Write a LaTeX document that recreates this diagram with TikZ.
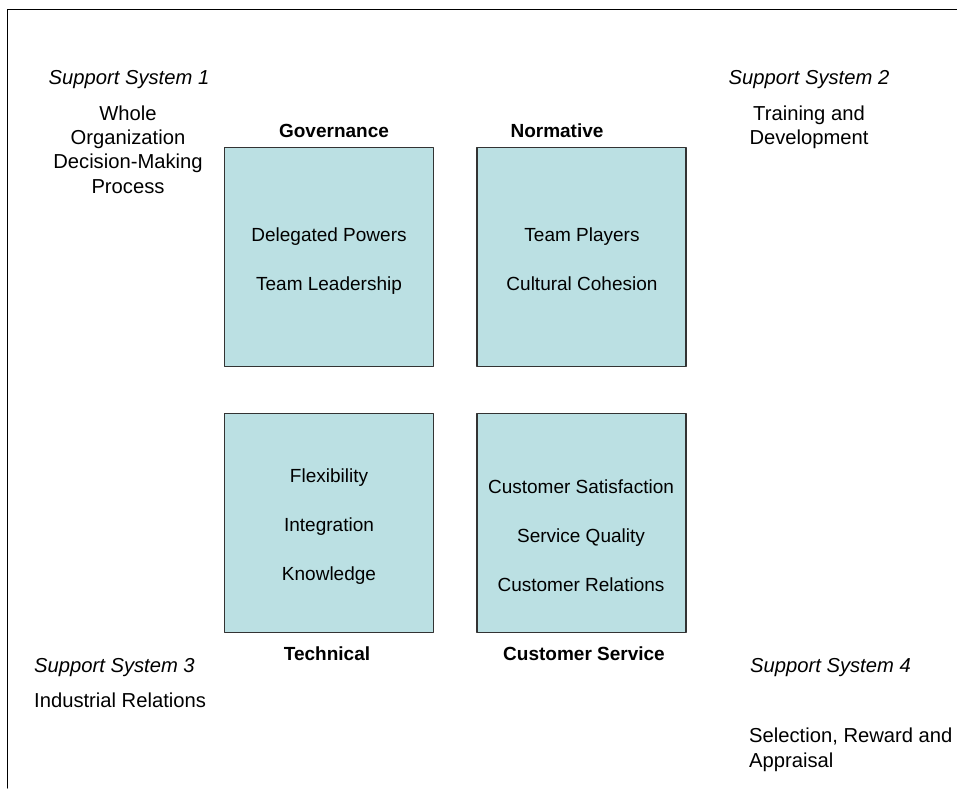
\documentclass[tikz,border=0pt]{standalone}
\usepackage{fontspec}
\setmainfont{Liberation Sans}
\definecolor{panelfill}{RGB}{187,224,227}
\tikzset{
  panel/.style={draw=black!80, line width=1.2pt, fill=panelfill, minimum width=209pt, minimum height=219pt, inner sep=0pt},
  boxtext/.style={align=center, inner sep=0pt, anchor=north, font=\fontsize{19}{49}\selectfont},
  head/.style={inner sep=0pt, anchor=base, font=\fontsize{19}{24}\selectfont\bfseries},
  sys/.style={inner sep=0pt, font=\fontsize{20.2}{24.3}\selectfont\itshape},
  sysnote/.style={inner sep=0pt, font=\fontsize{20.2}{24.3}\selectfont}
}
\begin{document}
\begin{tikzpicture}[x=1pt, y=-1pt, line join=round, line cap=round]
	\useasboundingbox (0,0) rectangle (957,788);
	% frame
	\draw[line width=1pt] (7.3,788) -- (7.3,9) -- (957,9);
	% the four panels
	\foreach \n/\x/\y in {gov/328.8/257.2, norm/581.5/257.2, tech/328.8/522.8, cust/581.5/522.8}
		\node[panel] (\n) at (\x,\y) {};
	\node[boxtext] (govtext) at (329,228) {Delegated Powers\\Team Leadership};
	\node[boxtext] (normtext) at (582,228) {Team Players\\Cultural Cohesion};
	\node[boxtext] (techtext) at (329,468.7) {Flexibility\\Integration\\Knowledge};
	\node[boxtext] (custtext) at (581,480) {Customer Satisfaction\\Service Quality\\Customer Relations};
	% panel headings
	\path
(334,137) node[head] (govhead) {Governance}
(557,137) node[head] (normhead) {Normative}
(327,660) node[head] (techhead) {Technical}
(584,660) node[head] (custhead) {Customer Service};
	% support systems
	\node[sys, anchor=base] (sys1) at (129,84.2) {Support System 1};
	\node[sysnote, align=center, anchor=north] (sys1note) at (128,105.5) {Whole\\Organization\\Decision-Making\\Process};
	\node[sys, anchor=base] (sys2) at (809,84.2) {Support System 2};
	\node[sysnote, align=center, anchor=north] (sys2note) at (809,105.5) {Training and\\Development};
	\node[sys, anchor=base west] (sys3) at (34,672.5) {Support System 3};
	\node[sysnote, anchor=base west] (sys3note) at (34,707.5) {Industrial Relations};
	\node[sys, anchor=base west] (sys4) at (750,672.5) {Support System 4};
	\node[sysnote, align=left, anchor=north west] (sys4note) at (749,728) {Selection, Reward and\\Appraisal};
\end{tikzpicture}
\end{document}
